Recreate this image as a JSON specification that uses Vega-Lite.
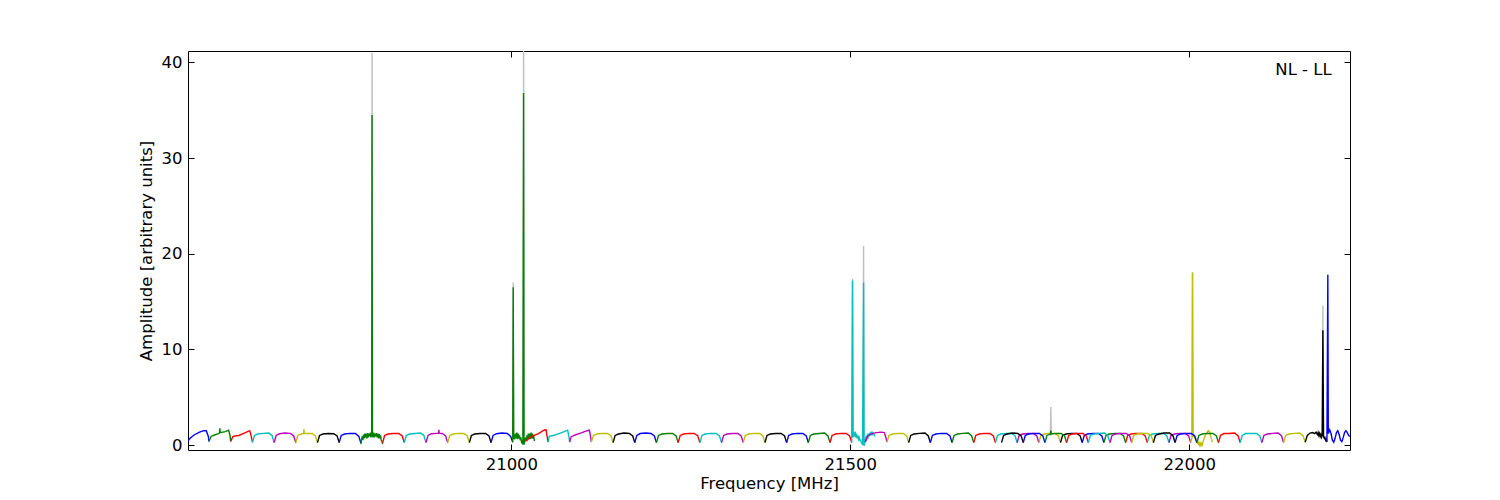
{
"$schema": "https://vega.github.io/schema/vega-lite/v6.json",
"width": 1162, "height": 399,
"autosize": {"type": "none"},
"padding": {"left": 188, "top": 51, "right": 150, "bottom": 50},
"background": "white",
"config": {
 "font": "DejaVu Sans",
 "view": {"stroke": "#000", "strokeWidth": 1},
 "axis": {"domain": false, "grid": false, "ticks": true, "tickColor": "#000", "tickSize": -6, "tickWidth": 1, "labelFontSize": 16.5, "labelColor": "#000", "titleFontSize": 16.5, "titleFontWeight": "normal", "titleColor": "#000", "labelPadding": 12}
},
"datasets": {
"d": [
{"s":1,"c":"b","f":20522,"a":0.35},{"s":1,"c":"b","f":20526,"a":0.7},{"s":1,"c":"b","f":20532,"a":1.05},{"s":1,"c":"b","f":20540,"a":1.35},{"s":1,"c":"b","f":20546,"a":1.5},{"s":1,"c":"b","f":20550,"a":1.5},{"s":1,"c":"b","f":20553,"a":0.9},{"s":1,"c":"b","f":20554,"a":0.35},
{"s":2,"c":"g","f":20554,"a":0.4},{"s":2,"c":"g","f":20557,"a":0.9},{"s":2,"c":"g","f":20562,"a":1.05},{"s":2,"c":"g","f":20568,"a":1.2},{"s":2,"c":"g","f":20569.5,"a":1.25},{"s":2,"c":"g","f":20570,"a":1.75},{"s":2,"c":"g","f":20570.5,"a":1.3},{"s":2,"c":"g","f":20578,"a":1.4},{"s":2,"c":"g","f":20583,"a":1.55},{"s":2,"c":"g","f":20585,"a":1.0},{"s":2,"c":"g","f":20586,"a":0.35},
{"s":3,"c":"r","f":20586,"a":0.4},{"s":3,"c":"r","f":20589,"a":0.85},{"s":3,"c":"r","f":20592,"a":0.95},{"s":3,"c":"r","f":20598,"a":1.0},{"s":3,"c":"r","f":20606,"a":1.25},{"s":3,"c":"r","f":20614,"a":1.5},{"s":3,"c":"r","f":20616,"a":1.0},{"s":3,"c":"r","f":20618,"a":0.3},
{"s":4,"c":"c","f":20618,"a":0.25},{"s":4,"c":"c","f":20621,"a":1.0},{"s":4,"c":"c","f":20626,"a":1.15},{"s":4,"c":"c","f":20634,"a":1.22},{"s":4,"c":"c","f":20642,"a":1.25},{"s":4,"c":"c","f":20647,"a":1.0},{"s":4,"c":"c","f":20650,"a":0.25},
{"s":5,"c":"m","f":20650,"a":0.25},{"s":5,"c":"m","f":20653,"a":1.0},{"s":5,"c":"m","f":20658,"a":1.18},{"s":5,"c":"m","f":20666,"a":1.25},{"s":5,"c":"m","f":20674,"a":1.22},{"s":5,"c":"m","f":20679,"a":0.95},{"s":5,"c":"m","f":20682,"a":0.25},
{"s":6,"c":"y","f":20682,"a":0.25},{"s":6,"c":"y","f":20685,"a":1.0},{"s":6,"c":"y","f":20690,"a":1.15},{"s":6,"c":"y","f":20693.5,"a":1.2},{"s":6,"c":"y","f":20694,"a":1.65},{"s":6,"c":"y","f":20694.5,"a":1.2},{"s":6,"c":"y","f":20698,"a":1.22},{"s":6,"c":"y","f":20706,"a":1.2},{"s":6,"c":"y","f":20711,"a":0.95},{"s":6,"c":"y","f":20714,"a":0.25},
{"s":7,"c":"k","f":20714,"a":0.25},{"s":7,"c":"k","f":20717,"a":1.0},{"s":7,"c":"k","f":20722,"a":1.15},{"s":7,"c":"k","f":20730,"a":1.2},{"s":7,"c":"k","f":20738,"a":1.18},{"s":7,"c":"k","f":20743,"a":0.95},{"s":7,"c":"k","f":20746,"a":0.25},
{"s":8,"c":"b","f":20746,"a":0.25},{"s":8,"c":"b","f":20749,"a":1.0},{"s":8,"c":"b","f":20754,"a":1.15},{"s":8,"c":"b","f":20762,"a":1.22},{"s":8,"c":"b","f":20770,"a":1.2},{"s":8,"c":"b","f":20775,"a":0.9},{"s":8,"c":"b","f":20778,"a":0.2},
{"s":9,"c":"g","f":20778,"a":0.1},{"s":9,"c":"g","f":20779,"a":0.6},{"s":9,"c":"g","f":20780,"a":0.9},{"s":9,"c":"g","f":20781,"a":0.5},{"s":9,"c":"g","f":20782,"a":1.1},{"s":9,"c":"g","f":20783,"a":0.7},{"s":9,"c":"g","f":20784,"a":1.2},{"s":9,"c":"g","f":20785,"a":0.8},{"s":9,"c":"g","f":20786,"a":1.2},{"s":9,"c":"g","f":20787,"a":0.7},{"s":9,"c":"g","f":20788,"a":1.25},{"s":9,"c":"g","f":20789,"a":0.8},{"s":9,"c":"g","f":20790,"a":1.2},{"s":9,"c":"g","f":20791,"a":0.9},{"s":9,"c":"g","f":20792,"a":1.3},{"s":9,"c":"g","f":20793,"a":0.8},{"s":9,"c":"g","f":20794,"a":1.1},{"s":9,"c":"g","f":20794.5,"a":34.5},{"s":9,"c":"g","f":20795,"a":1.0},{"s":9,"c":"g","f":20796,"a":0.8},{"s":9,"c":"g","f":20797,"a":1.3},{"s":9,"c":"g","f":20798,"a":0.8},{"s":9,"c":"g","f":20799,"a":1.2},{"s":9,"c":"g","f":20800,"a":0.9},{"s":9,"c":"g","f":20801,"a":1.25},{"s":9,"c":"g","f":20802,"a":0.8},{"s":9,"c":"g","f":20803,"a":1.2},{"s":9,"c":"g","f":20804,"a":0.7},{"s":9,"c":"g","f":20805,"a":1.15},{"s":9,"c":"g","f":20806,"a":0.7},{"s":9,"c":"g","f":20807,"a":1.0},{"s":9,"c":"g","f":20808,"a":0.5},{"s":9,"c":"g","f":20809,"a":0.4},{"s":9,"c":"g","f":20810,"a":0.1},
{"s":10,"c":"r","f":20810,"a":0.2},{"s":10,"c":"r","f":20813,"a":1.0},{"s":10,"c":"r","f":20818,"a":1.15},{"s":10,"c":"r","f":20826,"a":1.2},{"s":10,"c":"r","f":20834,"a":1.22},{"s":10,"c":"r","f":20839,"a":0.95},{"s":10,"c":"r","f":20842,"a":0.25},
{"s":11,"c":"c","f":20842,"a":0.25},{"s":11,"c":"c","f":20845,"a":1.0},{"s":11,"c":"c","f":20850,"a":1.15},{"s":11,"c":"c","f":20858,"a":1.2},{"s":11,"c":"c","f":20866,"a":1.25},{"s":11,"c":"c","f":20871,"a":1.0},{"s":11,"c":"c","f":20874,"a":0.25},
{"s":12,"c":"m","f":20874,"a":0.25},{"s":12,"c":"m","f":20877,"a":1.0},{"s":12,"c":"m","f":20882,"a":1.18},{"s":12,"c":"m","f":20890,"a":1.22},{"s":12,"c":"m","f":20892.5,"a":1.22},{"s":12,"c":"m","f":20893,"a":1.6},{"s":12,"c":"m","f":20893.5,"a":1.22},{"s":12,"c":"m","f":20898,"a":1.2},{"s":12,"c":"m","f":20903,"a":0.95},{"s":12,"c":"m","f":20906,"a":0.25},
{"s":13,"c":"y","f":20906,"a":0.25},{"s":13,"c":"y","f":20909,"a":1.0},{"s":13,"c":"y","f":20914,"a":1.15},{"s":13,"c":"y","f":20922,"a":1.22},{"s":13,"c":"y","f":20930,"a":1.2},{"s":13,"c":"y","f":20935,"a":0.95},{"s":13,"c":"y","f":20938,"a":0.25},
{"s":14,"c":"k","f":20938,"a":0.25},{"s":14,"c":"k","f":20941,"a":1.0},{"s":14,"c":"k","f":20946,"a":1.15},{"s":14,"c":"k","f":20954,"a":1.2},{"s":14,"c":"k","f":20962,"a":1.2},{"s":14,"c":"k","f":20967,"a":0.95},{"s":14,"c":"k","f":20970,"a":0.25},
{"s":15,"c":"b","f":20970,"a":0.25},{"s":15,"c":"b","f":20973,"a":1.0},{"s":15,"c":"b","f":20978,"a":1.18},{"s":15,"c":"b","f":20986,"a":1.25},{"s":15,"c":"b","f":20994,"a":1.2},{"s":15,"c":"b","f":20999,"a":0.9},{"s":15,"c":"b","f":21002,"a":0.3},
{"s":16,"c":"g","f":21002,"a":0.3},{"s":16,"c":"g","f":21002.7,"a":16.5},{"s":16,"c":"g","f":21003.4,"a":0.6},{"s":16,"c":"g","f":21004,"a":1.1},{"s":16,"c":"g","f":21005,"a":0.6},{"s":16,"c":"g","f":21006,"a":1.2},{"s":16,"c":"g","f":21007,"a":0.7},{"s":16,"c":"g","f":21008,"a":1.3},{"s":16,"c":"g","f":21009,"a":0.6},{"s":16,"c":"g","f":21010,"a":1.2},{"s":16,"c":"g","f":21011,"a":0.7},{"s":16,"c":"g","f":21012,"a":1.0},{"s":16,"c":"g","f":21013,"a":0.5},{"s":16,"c":"g","f":21014,"a":0.8},{"s":16,"c":"g","f":21015,"a":0.3},{"s":16,"c":"g","f":21016,"a":0.4},{"s":16,"c":"g","f":21017,"a":0.05},{"s":16,"c":"g","f":21018,"a":36.8},{"s":16,"c":"g","f":21018.6,"a":0.05},{"s":16,"c":"g","f":21019.5,"a":0.4},{"s":16,"c":"g","f":21020,"a":0.3},{"s":16,"c":"g","f":21021,"a":0.8},{"s":16,"c":"g","f":21022,"a":0.5},{"s":16,"c":"g","f":21023,"a":1.0},{"s":16,"c":"g","f":21024,"a":0.6},{"s":16,"c":"g","f":21025,"a":1.2},{"s":16,"c":"g","f":21026,"a":0.7},{"s":16,"c":"g","f":21027,"a":1.2},{"s":16,"c":"g","f":21028,"a":0.6},{"s":16,"c":"g","f":21029,"a":1.3},{"s":16,"c":"g","f":21030,"a":0.7},{"s":16,"c":"g","f":21031,"a":1.2},{"s":16,"c":"g","f":21032,"a":0.8},{"s":16,"c":"g","f":21033,"a":0.9},{"s":16,"c":"g","f":21034,"a":0.4},
{"s":17,"c":"r","f":21022,"a":0.4},{"s":17,"c":"r","f":21026,"a":0.7},{"s":17,"c":"r","f":21032,"a":0.95},{"s":17,"c":"r","f":21040,"a":1.2},{"s":17,"c":"r","f":21048,"a":1.55},{"s":17,"c":"r","f":21051,"a":1.6},{"s":17,"c":"r","f":21053,"a":0.8},{"s":17,"c":"r","f":21054,"a":0.3},
{"s":18,"c":"c","f":21054,"a":0.3},{"s":18,"c":"c","f":21056,"a":0.9},{"s":18,"c":"c","f":21062,"a":1.0},{"s":18,"c":"c","f":21070,"a":1.2},{"s":18,"c":"c","f":21078,"a":1.4},{"s":18,"c":"c","f":21083,"a":1.55},{"s":18,"c":"c","f":21085,"a":0.8},{"s":18,"c":"c","f":21086,"a":0.3},
{"s":19,"c":"m","f":21086,"a":0.3},{"s":19,"c":"m","f":21088,"a":0.85},{"s":19,"c":"m","f":21094,"a":1.05},{"s":19,"c":"m","f":21102,"a":1.25},{"s":19,"c":"m","f":21110,"a":1.45},{"s":19,"c":"m","f":21115,"a":1.55},{"s":19,"c":"m","f":21117,"a":0.8},{"s":19,"c":"m","f":21118,"a":0.3},
{"s":20,"c":"y","f":21118,"a":0.3},{"s":20,"c":"y","f":21121,"a":1.0},{"s":20,"c":"y","f":21126,"a":1.15},{"s":20,"c":"y","f":21134,"a":1.22},{"s":20,"c":"y","f":21142,"a":1.2},{"s":20,"c":"y","f":21147,"a":0.95},{"s":20,"c":"y","f":21150,"a":0.25},
{"s":21,"c":"k","f":21150,"a":0.25},{"s":21,"c":"k","f":21153,"a":1.0},{"s":21,"c":"k","f":21158,"a":1.15},{"s":21,"c":"k","f":21166,"a":1.25},{"s":21,"c":"k","f":21174,"a":1.22},{"s":21,"c":"k","f":21179,"a":0.95},{"s":21,"c":"k","f":21182,"a":0.25},
{"s":22,"c":"b","f":21182,"a":0.25},{"s":22,"c":"b","f":21185,"a":1.0},{"s":22,"c":"b","f":21190,"a":1.2},{"s":22,"c":"b","f":21198,"a":1.25},{"s":22,"c":"b","f":21206,"a":1.2},{"s":22,"c":"b","f":21211,"a":0.95},{"s":22,"c":"b","f":21214,"a":0.25},
{"s":23,"c":"g","f":21214,"a":0.25},{"s":23,"c":"g","f":21217,"a":1.0},{"s":23,"c":"g","f":21222,"a":1.15},{"s":23,"c":"g","f":21230,"a":1.2},{"s":23,"c":"g","f":21238,"a":1.2},{"s":23,"c":"g","f":21243,"a":0.95},{"s":23,"c":"g","f":21246,"a":0.25},
{"s":24,"c":"r","f":21246,"a":0.25},{"s":24,"c":"r","f":21249,"a":1.0},{"s":24,"c":"r","f":21254,"a":1.15},{"s":24,"c":"r","f":21262,"a":1.22},{"s":24,"c":"r","f":21270,"a":1.2},{"s":24,"c":"r","f":21275,"a":0.95},{"s":24,"c":"r","f":21278,"a":0.25},
{"s":25,"c":"c","f":21278,"a":0.25},{"s":25,"c":"c","f":21281,"a":1.0},{"s":25,"c":"c","f":21286,"a":1.15},{"s":25,"c":"c","f":21294,"a":1.22},{"s":25,"c":"c","f":21302,"a":1.2},{"s":25,"c":"c","f":21307,"a":0.95},{"s":25,"c":"c","f":21310,"a":0.25},
{"s":26,"c":"m","f":21310,"a":0.25},{"s":26,"c":"m","f":21313,"a":1.0},{"s":26,"c":"m","f":21318,"a":1.15},{"s":26,"c":"m","f":21326,"a":1.2},{"s":26,"c":"m","f":21334,"a":1.2},{"s":26,"c":"m","f":21339,"a":0.95},{"s":26,"c":"m","f":21342,"a":0.25},
{"s":27,"c":"y","f":21342,"a":0.25},{"s":27,"c":"y","f":21345,"a":1.0},{"s":27,"c":"y","f":21350,"a":1.15},{"s":27,"c":"y","f":21358,"a":1.22},{"s":27,"c":"y","f":21366,"a":1.2},{"s":27,"c":"y","f":21371,"a":0.95},{"s":27,"c":"y","f":21374,"a":0.25},
{"s":28,"c":"k","f":21374,"a":0.25},{"s":28,"c":"k","f":21377,"a":1.0},{"s":28,"c":"k","f":21382,"a":1.15},{"s":28,"c":"k","f":21390,"a":1.2},{"s":28,"c":"k","f":21398,"a":1.22},{"s":28,"c":"k","f":21403,"a":0.95},{"s":28,"c":"k","f":21406,"a":0.25},
{"s":29,"c":"b","f":21406,"a":0.25},{"s":29,"c":"b","f":21409,"a":1.0},{"s":29,"c":"b","f":21414,"a":1.15},{"s":29,"c":"b","f":21422,"a":1.22},{"s":29,"c":"b","f":21430,"a":1.2},{"s":29,"c":"b","f":21435,"a":0.95},{"s":29,"c":"b","f":21438,"a":0.25},
{"s":30,"c":"g","f":21438,"a":0.25},{"s":30,"c":"g","f":21441,"a":1.0},{"s":30,"c":"g","f":21446,"a":1.15},{"s":30,"c":"g","f":21454,"a":1.2},{"s":30,"c":"g","f":21462,"a":1.25},{"s":30,"c":"g","f":21467,"a":0.95},{"s":30,"c":"g","f":21470,"a":0.25},
{"s":31,"c":"r","f":21470,"a":0.25},{"s":31,"c":"r","f":21473,"a":1.0},{"s":31,"c":"r","f":21478,"a":1.15},{"s":31,"c":"r","f":21486,"a":1.22},{"s":31,"c":"r","f":21494,"a":1.2},{"s":31,"c":"r","f":21499,"a":0.95},{"s":31,"c":"r","f":21502,"a":0.25},
{"s":32,"c":"c","f":21502,"a":0.3},{"s":32,"c":"c","f":21503.2,"a":17.2},{"s":32,"c":"c","f":21504,"a":0.8},{"s":32,"c":"c","f":21505,"a":1.3},{"s":32,"c":"c","f":21506,"a":0.9},{"s":32,"c":"c","f":21507,"a":1.4},{"s":32,"c":"c","f":21508,"a":0.8},{"s":32,"c":"c","f":21509,"a":1.2},{"s":32,"c":"c","f":21510,"a":0.7},{"s":32,"c":"c","f":21511,"a":1.0},{"s":32,"c":"c","f":21512,"a":0.6},{"s":32,"c":"c","f":21513,"a":0.8},{"s":32,"c":"c","f":21514,"a":0.5},{"s":32,"c":"c","f":21515,"a":0.5},{"s":32,"c":"c","f":21516,"a":0.3},{"s":32,"c":"c","f":21517,"a":0.2},{"s":32,"c":"c","f":21518,"a":0.0},{"s":32,"c":"c","f":21519.5,"a":17.0},{"s":32,"c":"c","f":21520.2,"a":-0.1},{"s":32,"c":"c","f":21521,"a":0.3},{"s":32,"c":"c","f":21522,"a":0.5},{"s":32,"c":"c","f":21523,"a":0.8},{"s":32,"c":"c","f":21524,"a":0.6},{"s":32,"c":"c","f":21525,"a":1.0},{"s":32,"c":"c","f":21526,"a":0.8},{"s":32,"c":"c","f":21527,"a":1.2},{"s":32,"c":"c","f":21528,"a":0.9},{"s":32,"c":"c","f":21529,"a":1.3},{"s":32,"c":"c","f":21530,"a":1.0},{"s":32,"c":"c","f":21531,"a":1.4},{"s":32,"c":"c","f":21532,"a":1.0},{"s":32,"c":"c","f":21533,"a":1.3},{"s":32,"c":"c","f":21535,"a":1.1},{"s":32,"c":"c","f":21536,"a":0.9},
{"s":33,"c":"m","f":21522,"a":0.3},{"s":33,"c":"m","f":21525,"a":0.9},{"s":33,"c":"m","f":21530,"a":1.15},{"s":33,"c":"m","f":21538,"a":1.3},{"s":33,"c":"m","f":21546,"a":1.35},{"s":33,"c":"m","f":21550,"a":1.3},{"s":33,"c":"m","f":21552,"a":0.9},{"s":33,"c":"m","f":21554,"a":0.3},
{"s":34,"c":"y","f":21554,"a":0.3},{"s":34,"c":"y","f":21557,"a":1.0},{"s":34,"c":"y","f":21562,"a":1.15},{"s":34,"c":"y","f":21570,"a":1.22},{"s":34,"c":"y","f":21578,"a":1.2},{"s":34,"c":"y","f":21583,"a":0.95},{"s":34,"c":"y","f":21586,"a":0.25},
{"s":35,"c":"k","f":21586,"a":0.25},{"s":35,"c":"k","f":21589,"a":1.0},{"s":35,"c":"k","f":21594,"a":1.15},{"s":35,"c":"k","f":21602,"a":1.22},{"s":35,"c":"k","f":21610,"a":1.25},{"s":35,"c":"k","f":21615,"a":0.95},{"s":35,"c":"k","f":21618,"a":0.25},
{"s":36,"c":"b","f":21618,"a":0.25},{"s":36,"c":"b","f":21621,"a":1.0},{"s":36,"c":"b","f":21626,"a":1.15},{"s":36,"c":"b","f":21634,"a":1.22},{"s":36,"c":"b","f":21642,"a":1.2},{"s":36,"c":"b","f":21647,"a":0.95},{"s":36,"c":"b","f":21650,"a":0.25},
{"s":37,"c":"g","f":21650,"a":0.25},{"s":37,"c":"g","f":21653,"a":1.0},{"s":37,"c":"g","f":21658,"a":1.15},{"s":37,"c":"g","f":21666,"a":1.22},{"s":37,"c":"g","f":21674,"a":1.25},{"s":37,"c":"g","f":21679,"a":0.95},{"s":37,"c":"g","f":21682,"a":0.25},
{"s":38,"c":"r","f":21682,"a":0.25},{"s":38,"c":"r","f":21685,"a":1.0},{"s":38,"c":"r","f":21690,"a":1.15},{"s":38,"c":"r","f":21698,"a":1.22},{"s":38,"c":"r","f":21706,"a":1.2},{"s":38,"c":"r","f":21711,"a":0.95},{"s":38,"c":"r","f":21714,"a":0.25},
{"s":39,"c":"c","f":21714,"a":0.25},{"s":39,"c":"c","f":21717,"a":1.0},{"s":39,"c":"c","f":21722,"a":1.15},{"s":39,"c":"c","f":21730,"a":1.22},{"s":39,"c":"c","f":21738,"a":1.2},{"s":39,"c":"c","f":21743,"a":0.95},{"s":39,"c":"c","f":21746,"a":0.25},
{"s":40,"c":"m","f":21746,"a":0.25},{"s":40,"c":"m","f":21749,"a":1.0},{"s":40,"c":"m","f":21754,"a":1.15},{"s":40,"c":"m","f":21762,"a":1.2},{"s":40,"c":"m","f":21770,"a":1.22},{"s":40,"c":"m","f":21775,"a":0.95},{"s":40,"c":"m","f":21778,"a":0.25},
{"s":41,"c":"y","f":21778,"a":0.25},{"s":41,"c":"y","f":21781,"a":1.0},{"s":41,"c":"y","f":21786,"a":1.15},{"s":41,"c":"y","f":21794,"a":1.22},{"s":41,"c":"y","f":21802,"a":1.2},{"s":41,"c":"y","f":21807,"a":0.95},{"s":41,"c":"y","f":21810,"a":0.25},
{"s":42,"c":"k","f":21810,"a":0.25},{"s":42,"c":"k","f":21813,"a":1.0},{"s":42,"c":"k","f":21818,"a":1.15},{"s":42,"c":"k","f":21826,"a":1.22},{"s":42,"c":"k","f":21834,"a":1.2},{"s":42,"c":"k","f":21839,"a":0.95},{"s":42,"c":"k","f":21842,"a":0.25},
{"s":43,"c":"b","f":21842,"a":0.25},{"s":43,"c":"b","f":21845,"a":1.0},{"s":43,"c":"b","f":21850,"a":1.15},{"s":43,"c":"b","f":21858,"a":1.22},{"s":43,"c":"b","f":21866,"a":1.2},{"s":43,"c":"b","f":21871,"a":0.95},{"s":43,"c":"b","f":21874,"a":0.25},
{"s":44,"c":"g","f":21874,"a":0.25},{"s":44,"c":"g","f":21877,"a":1.0},{"s":44,"c":"g","f":21882,"a":1.15},{"s":44,"c":"g","f":21890,"a":1.2},{"s":44,"c":"g","f":21898,"a":1.2},{"s":44,"c":"g","f":21903,"a":0.95},{"s":44,"c":"g","f":21906,"a":0.25},
{"s":45,"c":"r","f":21906,"a":0.25},{"s":45,"c":"r","f":21909,"a":1.0},{"s":45,"c":"r","f":21914,"a":1.15},{"s":45,"c":"r","f":21922,"a":1.22},{"s":45,"c":"r","f":21930,"a":1.2},{"s":45,"c":"r","f":21935,"a":0.95},{"s":45,"c":"r","f":21938,"a":0.25},
{"s":46,"c":"c","f":21938,"a":0.25},{"s":46,"c":"c","f":21941,"a":1.0},{"s":46,"c":"c","f":21946,"a":1.15},{"s":46,"c":"c","f":21954,"a":1.22},{"s":46,"c":"c","f":21962,"a":1.2},{"s":46,"c":"c","f":21967,"a":0.95},{"s":46,"c":"c","f":21970,"a":0.25},
{"s":47,"c":"m","f":21970,"a":0.25},{"s":47,"c":"m","f":21973,"a":1.0},{"s":47,"c":"m","f":21978,"a":1.15},{"s":47,"c":"m","f":21986,"a":1.22},{"s":47,"c":"m","f":21994,"a":1.2},{"s":47,"c":"m","f":21999,"a":0.95},{"s":47,"c":"m","f":22002,"a":0.25},
{"s":48,"c":"y","f":22002,"a":0.3},{"s":48,"c":"y","f":22004,"a":0.8},{"s":48,"c":"y","f":22004.7,"a":18.0},{"s":48,"c":"y","f":22005.4,"a":0.9},{"s":48,"c":"y","f":22007,"a":1.0},{"s":48,"c":"y","f":22009,"a":0.6},{"s":48,"c":"y","f":22011,"a":0.3},{"s":48,"c":"y","f":22013,"a":0.1},{"s":48,"c":"y","f":22014,"a":0.3},{"s":48,"c":"y","f":22015,"a":0.0},{"s":48,"c":"y","f":22016,"a":0.2},{"s":48,"c":"y","f":22017,"a":-0.05},{"s":48,"c":"y","f":22018,"a":0.15},{"s":48,"c":"y","f":22019,"a":0.0},{"s":48,"c":"y","f":22020,"a":0.3},{"s":48,"c":"y","f":22022,"a":0.7},{"s":48,"c":"y","f":22024,"a":1.1},{"s":48,"c":"y","f":22026,"a":1.3},{"s":48,"c":"y","f":22028,"a":1.5},{"s":48,"c":"y","f":22030,"a":1.35},{"s":48,"c":"y","f":22032,"a":0.8},{"s":48,"c":"y","f":22034,"a":0.3},
{"s":50,"c":"k","f":21723,"a":0.25},{"s":50,"c":"k","f":21726,"a":1.0},{"s":50,"c":"k","f":21731,"a":1.15},{"s":50,"c":"k","f":21739,"a":1.25},{"s":50,"c":"k","f":21747,"a":1.22},{"s":50,"c":"k","f":21752,"a":0.95},{"s":50,"c":"k","f":21755,"a":0.25},
{"s":51,"c":"b","f":21755,"a":0.25},{"s":51,"c":"b","f":21758,"a":1.0},{"s":51,"c":"b","f":21763,"a":1.15},{"s":51,"c":"b","f":21771,"a":1.22},{"s":51,"c":"b","f":21779,"a":1.2},{"s":51,"c":"b","f":21784,"a":0.95},{"s":51,"c":"b","f":21787,"a":0.25},
{"s":52,"c":"g","f":21787,"a":0.25},{"s":52,"c":"g","f":21790,"a":1.0},{"s":52,"c":"g","f":21795,"a":1.15},{"s":52,"c":"g","f":21795.7,"a":1.5},{"s":52,"c":"g","f":21796.4,"a":1.15},{"s":52,"c":"g","f":21803,"a":1.22},{"s":52,"c":"g","f":21811,"a":1.2},{"s":52,"c":"g","f":21816,"a":0.95},{"s":52,"c":"g","f":21819,"a":0.25},
{"s":53,"c":"r","f":21819,"a":0.25},{"s":53,"c":"r","f":21822,"a":1.0},{"s":53,"c":"r","f":21827,"a":1.15},{"s":53,"c":"r","f":21835,"a":1.22},{"s":53,"c":"r","f":21843,"a":1.2},{"s":53,"c":"r","f":21848,"a":0.95},{"s":53,"c":"r","f":21851,"a":0.25},
{"s":54,"c":"c","f":21851,"a":0.25},{"s":54,"c":"c","f":21854,"a":1.0},{"s":54,"c":"c","f":21859,"a":1.15},{"s":54,"c":"c","f":21867,"a":1.22},{"s":54,"c":"c","f":21875,"a":1.25},{"s":54,"c":"c","f":21880,"a":0.95},{"s":54,"c":"c","f":21883,"a":0.25},
{"s":55,"c":"m","f":21883,"a":0.25},{"s":55,"c":"m","f":21886,"a":1.0},{"s":55,"c":"m","f":21891,"a":1.15},{"s":55,"c":"m","f":21899,"a":1.22},{"s":55,"c":"m","f":21907,"a":1.2},{"s":55,"c":"m","f":21912,"a":0.95},{"s":55,"c":"m","f":21915,"a":0.25},
{"s":56,"c":"y","f":21915,"a":0.25},{"s":56,"c":"y","f":21918,"a":1.0},{"s":56,"c":"y","f":21923,"a":1.15},{"s":56,"c":"y","f":21931,"a":1.22},{"s":56,"c":"y","f":21939,"a":1.2},{"s":56,"c":"y","f":21944,"a":0.95},{"s":56,"c":"y","f":21947,"a":0.25},
{"s":57,"c":"k","f":21947,"a":0.25},{"s":57,"c":"k","f":21950,"a":1.0},{"s":57,"c":"k","f":21955,"a":1.15},{"s":57,"c":"k","f":21963,"a":1.25},{"s":57,"c":"k","f":21971,"a":1.25},{"s":57,"c":"k","f":21976,"a":0.95},{"s":57,"c":"k","f":21979,"a":0.25},
{"s":58,"c":"b","f":21979,"a":0.25},{"s":58,"c":"b","f":21982,"a":1.0},{"s":58,"c":"b","f":21987,"a":1.15},{"s":58,"c":"b","f":21995,"a":1.22},{"s":58,"c":"b","f":22003,"a":1.2},{"s":58,"c":"b","f":22008,"a":0.95},{"s":58,"c":"b","f":22011,"a":0.25},
{"s":59,"c":"g","f":22011,"a":0.25},{"s":59,"c":"g","f":22014,"a":1.0},{"s":59,"c":"g","f":22019,"a":1.15},{"s":59,"c":"g","f":22027,"a":1.22},{"s":59,"c":"g","f":22035,"a":1.2},{"s":59,"c":"g","f":22040,"a":0.95},{"s":59,"c":"g","f":22043,"a":0.25},
{"s":60,"c":"r","f":22043,"a":0.25},{"s":60,"c":"r","f":22046,"a":1.0},{"s":60,"c":"r","f":22051,"a":1.2},{"s":60,"c":"r","f":22059,"a":1.2},{"s":60,"c":"r","f":22067,"a":1.25},{"s":60,"c":"r","f":22072,"a":0.95},{"s":60,"c":"r","f":22075,"a":0.25},
{"s":61,"c":"c","f":22075,"a":0.25},{"s":61,"c":"c","f":22078,"a":1.0},{"s":61,"c":"c","f":22083,"a":1.2},{"s":61,"c":"c","f":22091,"a":1.22},{"s":61,"c":"c","f":22099,"a":1.2},{"s":61,"c":"c","f":22104,"a":0.95},{"s":61,"c":"c","f":22107,"a":0.25},
{"s":62,"c":"m","f":22107,"a":0.25},{"s":62,"c":"m","f":22110,"a":1.0},{"s":62,"c":"m","f":22115,"a":1.15},{"s":62,"c":"m","f":22123,"a":1.22},{"s":62,"c":"m","f":22131,"a":1.25},{"s":62,"c":"m","f":22136,"a":0.95},{"s":62,"c":"m","f":22139,"a":0.25},
{"s":63,"c":"y","f":22139,"a":0.25},{"s":63,"c":"y","f":22142,"a":1.0},{"s":63,"c":"y","f":22147,"a":1.15},{"s":63,"c":"y","f":22155,"a":1.22},{"s":63,"c":"y","f":22163,"a":1.25},{"s":63,"c":"y","f":22168,"a":0.95},{"s":63,"c":"y","f":22171,"a":0.25},
{"s":64,"c":"k","f":22171,"a":0.3},{"s":64,"c":"k","f":22174,"a":1.0},{"s":64,"c":"k","f":22178,"a":1.25},{"s":64,"c":"k","f":22182,"a":1.3},{"s":64,"c":"k","f":22185,"a":1.2},{"s":64,"c":"k","f":22187,"a":1.35},{"s":64,"c":"k","f":22189,"a":1.1},{"s":64,"c":"k","f":22190,"a":1.3},{"s":64,"c":"k","f":22191,"a":1.0},{"s":64,"c":"k","f":22192,"a":1.2},{"s":64,"c":"k","f":22193,"a":0.9},{"s":64,"c":"k","f":22194,"a":1.1},{"s":64,"c":"k","f":22195,"a":0.8},{"s":64,"c":"k","f":22196,"a":1.0},{"s":64,"c":"k","f":22197,"a":12.0},{"s":64,"c":"k","f":22198,"a":0.9},{"s":64,"c":"k","f":22199,"a":0.7},{"s":64,"c":"k","f":22200,"a":0.8},{"s":64,"c":"k","f":22201,"a":0.5},{"s":64,"c":"k","f":22202,"a":0.6},{"s":64,"c":"k","f":22203,"a":0.3},
{"s":65,"c":"b","f":22203,"a":0.4},{"s":65,"c":"b","f":22204.3,"a":17.8},{"s":65,"c":"b","f":22205,"a":1.2},{"s":65,"c":"b","f":22207,"a":1.6},{"s":65,"c":"b","f":22209,"a":1.2},{"s":65,"c":"b","f":22211,"a":0.5},{"s":65,"c":"b","f":22213,"a":0.3},{"s":65,"c":"b","f":22215,"a":0.7},{"s":65,"c":"b","f":22217,"a":1.3},{"s":65,"c":"b","f":22219,"a":1.5},{"s":65,"c":"b","f":22221,"a":1.1},{"s":65,"c":"b","f":22223,"a":0.5},{"s":65,"c":"b","f":22225,"a":0.35},{"s":65,"c":"b","f":22227,"a":0.8},{"s":65,"c":"b","f":22229,"a":1.3},{"s":65,"c":"b","f":22231,"a":1.5},{"s":65,"c":"b","f":22233,"a":1.3},{"s":65,"c":"b","f":22235,"a":1.0},{"s":65,"c":"b","f":22237,"a":0.9}
],
"gray": [
{"s":1,"f":20793.8,"a":1.0},{"s":1,"f":20794.5,"a":41.0},{"s":1,"f":20795.2,"a":1.0},
{"s":2,"f":21002.0,"a":1.0},{"s":2,"f":21002.7,"a":17.0},{"s":2,"f":21003.4,"a":1.0},
{"s":3,"f":21017.3,"a":1.0},{"s":3,"f":21018.0,"a":41.5},{"s":3,"f":21018.7,"a":1.0},
{"s":4,"f":21502.5,"a":1.0},{"s":4,"f":21503.2,"a":17.4},{"s":4,"f":21503.9,"a":1.0},
{"s":5,"f":21518.8,"a":1.0},{"s":5,"f":21519.5,"a":20.8},{"s":5,"f":21520.2,"a":1.0},
{"s":6,"f":21795.0,"a":1.0},{"s":6,"f":21795.7,"a":4.0},{"s":6,"f":21796.4,"a":1.0},
{"s":7,"f":22004.0,"a":1.0},{"s":7,"f":22004.7,"a":18.1},{"s":7,"f":22005.4,"a":1.0},
{"s":8,"f":22196.3,"a":1.0},{"s":8,"f":22197.0,"a":14.6},{"s":8,"f":22197.7,"a":1.0}
],
"lbl": [{"t":"NL - LL","f":22210,"a":39.2}]
},
"resolve": {"axis": {"x": "independent", "y": "independent"}},
"layer": [
{
 "data": {"name": "gray"},
 "mark": {"type": "line", "color": "#bfbfbf", "strokeWidth": 1.4, "clip": true},
 "encoding": {
  "x": {"field": "f", "type": "quantitative", "scale": {"domain": [20523, 22237], "nice": false, "zero": false},
        "axis": {"orient": "bottom", "values": [21000, 21500, 22000], "format": "d", "title": "Frequency [MHz]", "titlePadding": 3}},
  "y": {"field": "a", "type": "quantitative", "scale": {"domain": [-0.52, 41.2], "nice": false, "zero": false},
        "axis": {"orient": "left", "values": [0, 10, 20, 30, 40], "format": "d", "title": "Amplitude [arbitrary units]", "titlePadding": 7}},
  "detail": {"field": "s", "type": "nominal"}
 }
},
{
 "data": {"name": "d"},
 "mark": {"type": "line", "strokeWidth": 1.4, "clip": true},
 "encoding": {
  "x": {"field": "f", "type": "quantitative", "axis": null},
  "y": {"field": "a", "type": "quantitative", "axis": null},
  "detail": {"field": "s", "type": "nominal"},
  "color": {"field": "c", "type": "nominal", "legend": null,
   "scale": {"domain": ["b","g","r","c","m","y","k"], "range": ["#0000ff","#008000","#ff0000","#00bfbf","#bf00bf","#bfbf00","#000000"]}}
 }
},
{
 "data": {"name": "lbl"},
 "mark": {"type": "text", "align": "right", "baseline": "middle", "fontSize": 16.5, "color": "#000"},
 "encoding": {
  "x": {"field": "f", "type": "quantitative", "axis": {"orient": "top", "values": [21000, 21500, 22000], "labels": false, "title": null}},
  "y": {"field": "a", "type": "quantitative", "axis": {"orient": "right", "values": [0, 10, 20, 30, 40], "labels": false, "title": null}},
  "text": {"field": "t"}
 }
}
]
}
